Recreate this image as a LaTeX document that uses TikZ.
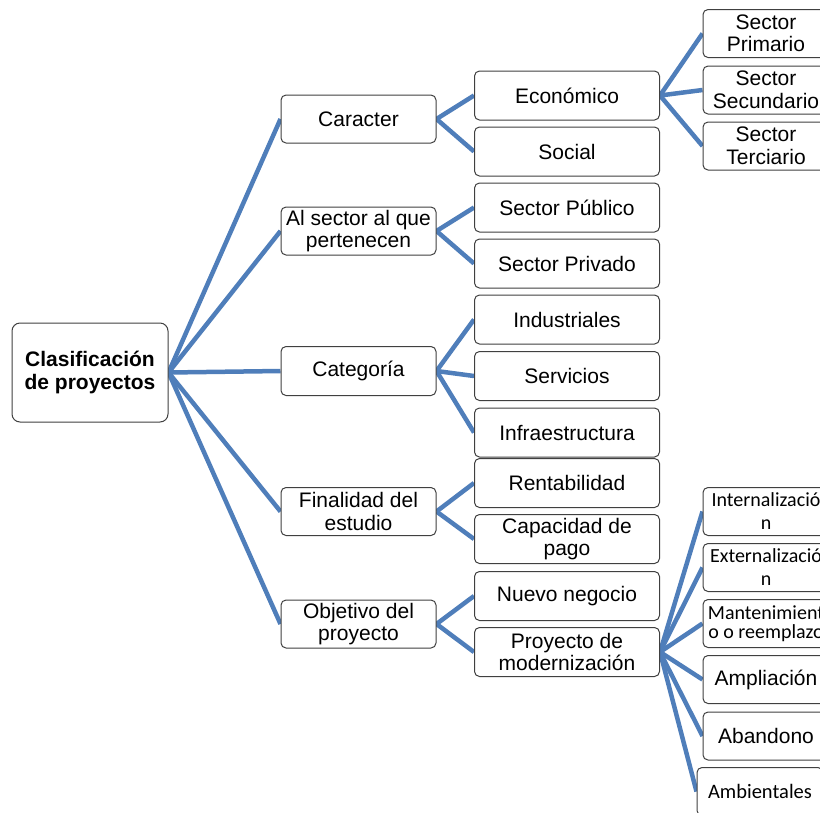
\documentclass[tikz,border=0pt]{standalone}
\usepackage{fontspec}
\setmainfont{Liberation Sans}
\newfontfamily\carlito{Carlito}
\usetikzlibrary{backgrounds}
\definecolor{linkblue}{RGB}{79,126,186}
\definecolor{boxline}{RGB}{64,64,64}
\begin{document}
\begin{tikzpicture}[x=1pt,y=-1pt,
  box/.style={draw=boxline, line width=1pt, fill=white, rounded corners=5pt, inner sep=0pt, align=center, font=\fontsize{21}{22.5}\selectfont},
  lvone/.style={box, minimum width=155pt, minimum height=48pt},
  lvtwo/.style={box, minimum width=185pt, minimum height=49pt},
  lvthree/.style={box, minimum width=126pt, minimum height=48pt},
  small/.style={font=\carlito\fontsize{20}{23}\selectfont},
  link/.style={draw=linkblue, line width=4.5pt}]
\clip (0,0) rectangle (820,812);

% root
\node[box, minimum width=156pt, minimum height=99pt, rounded corners=8pt, font=\bfseries\fontsize{21}{23}\selectfont] (root) at (90,372.5) {Clasificación\\de proyectos};

% level 1
\node[lvone] (car) at (358.5,119) {Caracter};
\node[lvone] (sec) at (358.5,231) {Al sector al que\\pertenecen};
\node[lvone, minimum height=49pt] (cat) at (358.5,371) {Categoría};
\node[lvone] (fin) at (358.5,511.5) {Finalidad del\\estudio};
\node[lvone] (obj) at (358.5,624) {Objetivo del\\proyecto};

% level 2
\node[lvtwo] (eco) at (567,95.5) {Económico};
\node[lvtwo] (soc) at (567,151.5) {Social};
\node[lvtwo] (pub) at (567,207.5) {Sector Público};
\node[lvtwo] (pri) at (567,263.5) {Sector Privado};
\node[lvtwo] (ind) at (567,319.5) {Industriales};
\node[lvtwo] (ser) at (567,376) {Servicios};
\node[lvtwo] (inf) at (567,432.5) {Infraestructura};
\node[lvtwo] (ren) at (567,483) {Rentabilidad};
\node[lvtwo] (cap) at (567,539) {Capacidad de\\pago};
\node[lvtwo] (nue) at (567,596) {Nuevo negocio};
\node[lvtwo] (mod) at (567,652) {Proyecto de\\modernización};

% level 3
\node[lvthree] (sp) at (766,33.5) {Sector\\Primario};
\node[lvthree] (ss) at (766,90) {Sector\\Secundario};
\node[lvthree] (st) at (766,146) {Sector\\Terciario};
\node[lvthree, small] (int) at (766,511.5) {Internalizació\\n};
\node[lvthree, small] (ext) at (766,567.5) {Externalizació\\n};
\node[lvthree, font=\carlito\fontsize{20}{19}\selectfont] (man) at (766,623.5) {Mantenimient\\o o reemplazo};
\node[lvthree] (amp) at (766,679.5) {Ampliación};
\node[lvthree] (aba) at (766,736) {Abandono};
\node[lvthree, font=\carlito\fontsize{20.5}{23}\selectfont] (amb) at (760,791.5) {Ambientales};

\begin{scope}[on background layer]
  \foreach \c in {car,sec,cat,fin,obj} \draw[link] (root.east) -- (\c.west);
  \foreach \c in {eco,soc} \draw[link] (car.east) -- (\c.west);
  \foreach \c in {pub,pri} \draw[link] (sec.east) -- (\c.west);
  \foreach \c in {ind,ser,inf} \draw[link] (cat.east) -- (\c.west);
  \foreach \c in {ren,cap} \draw[link] (fin.east) -- (\c.west);
  \foreach \c in {nue,mod} \draw[link] (obj.east) -- (\c.west);
  \foreach \c in {sp,ss,st} \draw[link] (eco.east) -- (\c.west);
  \foreach \c in {int,ext,man,amp,aba,amb} \draw[link] (mod.east) -- (\c.west);
\end{scope}
\end{tikzpicture}
\end{document}
